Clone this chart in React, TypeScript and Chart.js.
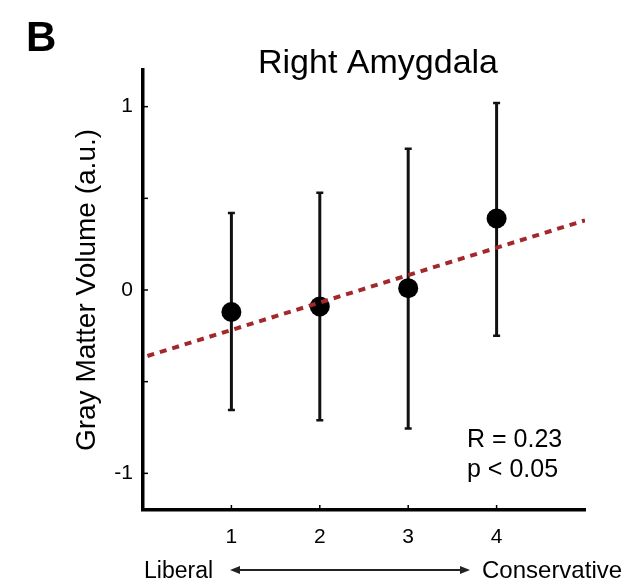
import { useEffect, useRef } from 'react';
import { Chart, registerables } from 'chart.js';

Chart.register(...registerables);

const FONT = "'Liberation Sans', Arial, Helvetica, sans-serif";

// ---- data ----
const categories = [1, 2, 3, 4];
const means = [-0.12, -0.09, 0.01, 0.39];
const upper = [0.42, 0.53, 0.77, 1.02];
const lower = [-0.655, -0.71, -0.755, -0.25];
const fitX = [0.05, 5];
const fitY = [-0.36, 0.38];
const yTickValues = [-1, -0.5, 0, 0.5, 1];
const xRange = [0, 5];
const yRange = [-1.2, 1.2];
const titleText = 'Right Amygdala';
const panelLabel = 'B';
const yTitle = 'Gray Matter Volume (a.u.)';
const statLines = ['R = 0.23', 'p < 0.05'];
const leftEnd = 'Liberal';
const rightEnd = 'Conservative';

const errorBarPlugin = {
  id: 'errorBars',
  beforeDatasetsDraw(chart: any) {
    const { ctx, scales } = chart;
    const xs = scales.x;
    const ys = scales.y;
    ctx.save();
    ctx.strokeStyle = '#111';
    categories.forEach((c, i) => {
      const px = xs.getPixelForValue(c);
      const top = ys.getPixelForValue(upper[i]);
      const bot = ys.getPixelForValue(lower[i]);
      ctx.lineWidth = 3;
      ctx.beginPath();
      ctx.moveTo(px, top);
      ctx.lineTo(px, bot);
      ctx.stroke();
      ctx.beginPath();
      ctx.lineWidth = 2.5;
      ctx.moveTo(px - 3.5, top);
      ctx.lineTo(px + 3.5, top);
      ctx.moveTo(px - 3.5, bot);
      ctx.lineTo(px + 3.5, bot);
      ctx.stroke();
    });
    ctx.restore();
  },
};

const decorPlugin = {
  id: 'decor',
  afterDraw(chart: any) {
    const { ctx, scales, chartArea } = chart;
    const xs = scales.x;
    const ys = scales.y;
    ctx.save();
    // inward tick marks
    ctx.strokeStyle = '#000';
    ctx.lineWidth = 1.5;
    yTickValues.forEach((v) => {
      const py = ys.getPixelForValue(v);
      ctx.beginPath();
      ctx.moveTo(chartArea.left, py);
      ctx.lineTo(chartArea.left + 5, py);
      ctx.stroke();
    });
    categories.forEach((c) => {
      const px = xs.getPixelForValue(c);
      ctx.beginPath();
      ctx.moveTo(px, chartArea.bottom);
      ctx.lineTo(px, chartArea.bottom - 5);
      ctx.stroke();
    });

    ctx.fillStyle = '#000';
    // panel label
    ctx.font = `bold 42px ${FONT}`;
    ctx.textAlign = 'left';
    ctx.textBaseline = 'alphabetic';
    ctx.fillText(panelLabel, 26, 51);
    // title
    ctx.font = `34px ${FONT}`;
    ctx.textAlign = 'center';
    ctx.fillText(titleText, 378, 73);
    // stats
    ctx.font = `25px ${FONT}`;
    ctx.textAlign = 'left';
    ctx.fillText(statLines[0], 467, 447);
    ctx.fillText(statLines[1], 467, 477);
    // liberal / conservative
    ctx.font = `23px ${FONT}`;
    ctx.fillText(leftEnd, 144, 578);
    ctx.font = `24px ${FONT}`;
    ctx.fillText(rightEnd, 482, 578);
    // arrow
    const ay = 570;
    const ax1 = 230;
    const ax2 = 470;
    ctx.strokeStyle = '#222';
    ctx.lineWidth = 2;
    ctx.beginPath();
    ctx.moveTo(ax1 + 6, ay);
    ctx.lineTo(ax2 - 6, ay);
    ctx.stroke();
    ctx.fillStyle = '#222';
    ctx.beginPath();
    ctx.moveTo(ax1, ay);
    ctx.lineTo(ax1 + 10, ay - 4);
    ctx.lineTo(ax1 + 10, ay + 4);
    ctx.closePath();
    ctx.fill();
    ctx.beginPath();
    ctx.moveTo(ax2, ay);
    ctx.lineTo(ax2 - 10, ay - 4);
    ctx.lineTo(ax2 - 10, ay + 4);
    ctx.closePath();
    ctx.fill();
    ctx.restore();
  },
};

export default function App() {
  const ref = useRef<HTMLCanvasElement | null>(null);
  useEffect(() => {
    if (!ref.current) return;
    Chart.defaults.font.family = FONT;
    const chart = new Chart(ref.current, {
      type: 'scatter',
      data: {
        datasets: [
          {
            label: 'fit',
            type: 'line',
            data: fitX.map((x, i) => ({ x, y: fitY[i] })),
            borderColor: '#a3282b',
            borderWidth: 4,
            borderDash: [7, 6],
            pointRadius: 0,
            fill: false,
            order: 1,
          } as any,
          {
            label: 'mean',
            data: categories.map((c, i) => ({ x: c, y: means[i] })),
            backgroundColor: '#000',
            borderColor: '#000',
            borderWidth: 0,
            pointRadius: 10,
            order: 2,
          },
        ],
      },
      options: {
        responsive: false,
        animation: false,
        events: [],
        layout: { padding: { left: 0, top: 70, right: 44, bottom: 0 } },
        plugins: {
          legend: { display: false },
          tooltip: { enabled: false },
          title: { display: false },
        },
        scales: {
          x: {
            type: 'linear',
            min: xRange[0],
            max: xRange[1],
            afterBuildTicks: (s: any) => {
              s.ticks = categories.map((v) => ({ value: v }));
            },
            afterFit: (s: any) => {
              s.height = 69;
            },
            grid: { display: false, drawTicks: false },
            border: { display: true, color: '#000', width: 3.5 },
            ticks: {
              color: '#000',
              font: { size: 21, family: FONT },
              padding: 15,
              callback: (v: any) => String(v),
            },
          },
          y: {
            type: 'linear',
            min: yRange[0],
            max: yRange[1],
            afterBuildTicks: (s: any) => {
              s.ticks = yTickValues.map((v) => ({ value: v }));
            },
            afterFit: (s: any) => {
              s.width = 143;
            },
            grid: { display: false, drawTicks: false },
            border: { display: true, color: '#000', width: 3.5 },
            ticks: {
              color: '#000',
              font: { size: 21, family: FONT },
              padding: 10,
              callback: (v: any) => (Number.isInteger(v) ? String(v) : ''),
            },
            title: {
              display: true,
              text: yTitle,
              color: '#000',
              font: { size: 28, family: FONT },
              padding: { top: 70, bottom: 0 },
            },
          },
        },
      },
      plugins: [errorBarPlugin, decorPlugin],
    });
    return () => chart.destroy();
  }, []);
  return (
    <div style={{ position: 'absolute', left: 0, top: 0, width: 629, height: 579 }}>
      <canvas ref={ref} width={629} height={579} />
    </div>
  );
}
